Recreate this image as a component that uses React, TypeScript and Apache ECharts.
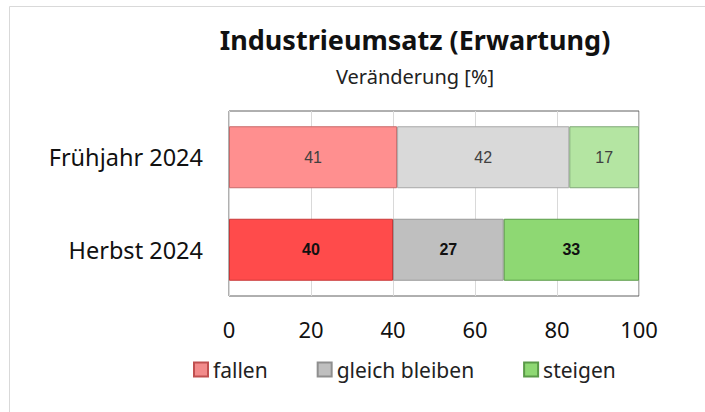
import React, { useEffect, useRef } from "react";
import * as echarts from "echarts";

const categories = ["Frühjahr 2024", "Herbst 2024"];
const fallen = [41, 40];
const gleich = [42, 27];
const steigen = [17, 33];
const xTicks = [0, 20, 40, 60, 80, 100];

const FONT = "'Noto Sans', 'Open Sans', sans-serif";

export default function App() {
  const ref = useRef<HTMLDivElement>(null);
  useEffect(() => {
    const chart = echarts.init(ref.current!, null, { renderer: "svg" });
    const mk = (
      name: string,
      vals: number[],
      legendColor: string,
      legendBorder: string,
      colors: string[],
      borders: string[]
    ) => ({
      name,
      type: "bar",
      stack: "s",
      barCategoryGap: "33%",
      itemStyle: { color: legendColor, borderColor: legendBorder, borderWidth: 1 },
      data: vals.map((v, i) => ({
        value: v,
        itemStyle: { color: colors[i], borderColor: borders[i], borderWidth: 1 },
        label: {
          show: true,
          position: "inside",
          fontFamily: "'Liberation Sans', Arial, sans-serif",
          fontSize: 16,
          fontWeight: i === 1 ? "bold" : "normal",
          color: i === 1 ? "#111" : "#404040",
        },
      })),
    });
    chart.setOption({
      animation: false,
      backgroundColor: "#fff",
      title: [
        {
          text: "Industrieumsatz (Erwartung)",
          left: 410,
          top: 21,
          textAlign: "center",
          textStyle: { fontFamily: FONT, fontSize: 27, fontWeight: "bold", color: "#111" },
        },
        {
          text: "Veränderung [%]",
          left: 410,
          top: 61,
          textAlign: "center",
          textStyle: { fontFamily: FONT, fontSize: 20, fontWeight: "normal", color: "#222" },
        },
      ],
      graphic: [
        {
          type: "rect",
          shape: { x: 9.5, y: 6.5, width: 740, height: 440 },
          style: { fill: "none", stroke: "#d9d9d9", lineWidth: 1 },
          silent: true,
        },
      ],
      legend: {
        bottom: 27,
        left: 188,
        icon: "rect",
        itemWidth: 14,
        itemHeight: 14,
        itemGap: 49,
        textStyle: { fontFamily: FONT, fontSize: 21, color: "#222" },
        data: ["fallen", "gleich bleiben", "steigen"],
      },
      grid: {
        left: 229,
        top: 111,
        width: 410,
        height: 185,
        show: true,
        borderColor: "#606060",
        borderWidth: 1,
        containLabel: false,
      },
      xAxis: {
        type: "value",
        min: xTicks[0],
        max: xTicks[xTicks.length - 1],
        interval: 20,
        axisLine: { show: false },
        axisTick: { show: false },
        splitLine: { show: true, lineStyle: { color: "#d9d9d9" } },
        axisLabel: {
          fontFamily: FONT,
          fontSize: 22,
          color: "#111",
          margin: 22,
        },
      },
      yAxis: {
        type: "category",
        inverse: true,
        data: categories,
        axisLine: { show: false },
        axisTick: { show: false },
        axisLabel: { fontFamily: FONT, fontSize: 23.5, color: "#111", margin: 26 },
      },
      series: [
        mk("fallen", fallen, "#f28b8b", "#c05050", ["#ff8f8f", "#ff4b4b"], ["#c86a6a", "#c83838"]),
        mk("gleich bleiben", gleich, "#bfbfbf", "#8f8f8f", ["#d9d9d9", "#bfbfbf"], ["#a8a8a8", "#999999"]),
        mk("steigen", steigen, "#8ed873", "#5a9a48", ["#b4e5a2", "#8ed873"], ["#80a878", "#5a9a48"]),
      ],
    });
    return () => chart.dispose();
  }, []);
  return (
    <div
      ref={ref}
      style={{ position: "fixed", left: 0, top: 0, width: 705, height: 412 }}
    />
  );
}
